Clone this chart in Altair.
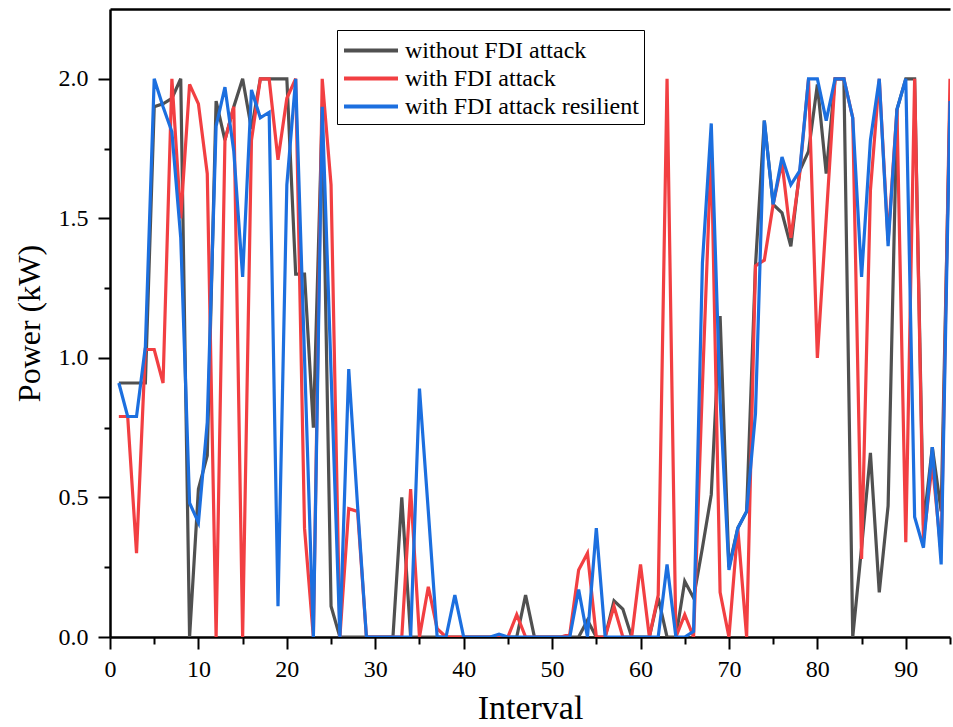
import altair as alt
import pandas as pd

intervals = list(range(1, 96))

without_fdi = [
    0.91, 0.91, 0.91, 0.91, 1.90, 1.91, 1.93, 2.00, 0.00, 0.53,
    0.65, 1.92, 1.78, 1.90, 2.00, 1.82, 2.00, 2.00, 2.00, 2.00,
    1.30, 1.30, 0.75, 1.88, 0.11, 0.00, 0.00, 0.00, 0.00, 0.00,
    0.00, 0.00, 0.50, 0.00, 0.00, 0.00, 0.00, 0.00, 0.00, 0.00,
    0.00, 0.00, 0.00, 0.00, 0.00, 0.00, 0.15, 0.00, 0.00, 0.00,
    0.00, 0.00, 0.00, 0.06, 0.00, 0.00, 0.13, 0.10, 0.00, 0.00,
    0.00, 0.14, 0.00, 0.00, 0.20, 0.14, 0.32, 0.51, 1.15, 0.25,
    0.39, 0.45, 1.33, 1.85, 1.55, 1.52, 1.40, 1.67, 1.74, 1.98,
    1.66, 2.00, 2.00, 0.00, 0.32, 0.66, 0.16, 0.47, 1.89, 2.00,
    2.00, 0.40, 0.68, 0.45, 1.92,
]

with_fdi = [
    0.79, 0.79, 0.30, 1.03, 1.03, 0.91, 2.00, 1.50, 1.98, 1.91,
    1.66, 0.00, 1.78, 1.90, 0.00, 1.78, 2.00, 2.00, 1.71, 1.93,
    2.00, 0.39, 0.00, 2.00, 1.62, 0.00, 0.46, 0.45, 0.00, 0.00,
    0.00, 0.00, 0.00, 0.53, 0.00, 0.18, 0.03, 0.00, 0.00, 0.00,
    0.00, 0.00, 0.00, 0.00, 0.00, 0.08, 0.00, 0.00, 0.00, 0.00,
    0.00, 0.01, 0.24, 0.30, 0.00, 0.00, 0.11, 0.00, 0.00, 0.26,
    0.00, 0.15, 2.00, 0.00, 0.08, 0.00, 0.90, 1.75, 0.16, 0.00,
    0.39, 0.00, 1.33, 1.35, 1.55, 1.70, 1.43, 1.66, 2.00, 1.00,
    1.50, 2.00, 2.00, 1.86, 0.28, 1.60, 2.00, 1.42, 1.89, 0.34,
    2.00, 0.35, 0.62, 0.30, 2.00,
]

with_fdi_resilient = [
    0.91, 0.79, 0.79, 1.04, 2.00, 1.90, 1.81, 1.43, 0.48, 0.41,
    0.77, 1.83, 1.97, 1.74, 1.29, 1.96, 1.86, 1.88, 0.11, 1.62,
    2.00, 1.00, 0.00, 1.90, 0.95, 0.00, 0.96, 0.47, 0.00, 0.00,
    0.00, 0.00, 0.00, 0.00, 0.89, 0.45, 0.00, 0.00, 0.15, 0.00,
    0.00, 0.00, 0.00, 0.01, 0.00, 0.00, 0.00, 0.00, 0.00, 0.00,
    0.00, 0.00, 0.17, 0.00, 0.39, 0.00, 0.00, 0.00, 0.00, 0.00,
    0.00, 0.00, 0.26, 0.00, 0.00, 0.02, 1.34, 1.84, 0.85, 0.24,
    0.39, 0.45, 0.80, 1.85, 1.55, 1.72, 1.62, 1.67, 2.00, 2.00,
    1.85, 2.00, 2.00, 1.86, 1.29, 1.78, 2.00, 1.40, 1.89, 2.00,
    0.43, 0.32, 0.68, 0.26, 1.92,
]

series_names = ["without FDI attack", "with FDI attack", "with FDI attack resilient"]
series_colors = ["#505050", "#F23F42", "#1C6FDF"]

rows = []
for k, (name, vals) in enumerate(zip(series_names, [without_fdi, with_fdi, with_fdi_resilient])):
    for i, v in zip(intervals, vals):
        rows.append({"Interval": i, "Power": v, "series": name, "order": k})
df = pd.DataFrame(rows)

FONT = "Liberation Serif"

x_ticks = list(range(0, 96, 5))
y_ticks = [0, 0.25, 0.5, 0.75, 1.0, 1.25, 1.5, 1.75, 2.0]

lines = alt.Chart(df).mark_line(strokeWidth=3.2, clip=True).encode(
    x=alt.X(
        "Interval:Q",
        scale=alt.Scale(domain=[0, 95], nice=False, zero=False),
        axis=alt.Axis(
            title="Interval",
            values=x_ticks,
            labelExpr="datum.value % 10 === 0 ? datum.label : ''",
            tickSize={"condition": {"test": "datum.value % 10 === 0", "value": 12}, "value": 7},
            tickWidth=2,
            tickColor="black",
            domainColor="black",
            domainWidth=2.5,
            labelFont=FONT,
            labelFontSize=24,
            labelColor="black",
            labelPadding=8,
            labelFlush=False,
            titleFont=FONT,
            titleFontSize=34,
            titleFontWeight="normal",
            titleColor="black",
            titlePadding=10,
            grid=False,
        ),
    ),
    y=alt.Y(
        "Power:Q",
        scale=alt.Scale(domain=[0, 2.25], nice=False),
        axis=alt.Axis(
            title="Power (kW)",
            values=y_ticks,
            labelExpr="datum.value % 0.5 === 0 ? format(datum.value, '.1f') : ''",
            tickSize={"condition": {"test": "datum.value % 0.5 === 0", "value": 12}, "value": 6},
            tickWidth=2,
            tickColor="black",
            domainColor="black",
            domainWidth=2.5,
            labelFont=FONT,
            labelFontSize=24,
            labelColor="black",
            labelPadding=10,
            titleFont=FONT,
            titleFontSize=32,
            titleFontWeight="normal",
            titleColor="black",
            titlePadding=12,
            grid=False,
        ),
    ),
    color=alt.Color(
        "series:N",
        scale=alt.Scale(domain=series_names, range=series_colors),
        sort=series_names,
        legend=alt.Legend(
            title=None,
            orient="none",
            legendX=227,
            legendY=21,
            symbolType="M-1,0H3",
            symbolSize=729,
            symbolStrokeWidth=4,
            symbolFillColor="transparent",
            labelFont=FONT,
            labelFontSize=24,
            labelColor="black",
            labelOffset=32,
            labelLimit=0,
            padding=5,
            rowPadding=0,
            strokeColor="black",
            fillColor="white",
        ),
    ),
    order=alt.Order("order:Q"),
    detail="series:N",
)

top_border = alt.Chart(df).mark_line(opacity=0).encode(
    x=alt.X(
        "Interval:Q",
        scale=alt.Scale(domain=[0, 95], nice=False, zero=False),
        axis=alt.Axis(orient="top", title=None, labels=False, ticks=False,
                      domainColor="black", domainWidth=2.5, grid=False),
    ),
    y=alt.Y("Power:Q", scale=alt.Scale(domain=[0, 2.25], nice=False)),
)

chart = alt.layer(lines, top_border).resolve_axis(x="independent").properties(
    width=840,
    height=628,
    padding={"left": 110, "top": 9, "right": 3, "bottom": 90},
    autosize="none",
    background="white",
).configure_view(stroke=None)

chart.save("out.html", embed_options={"renderer": "svg", "actions": False})
